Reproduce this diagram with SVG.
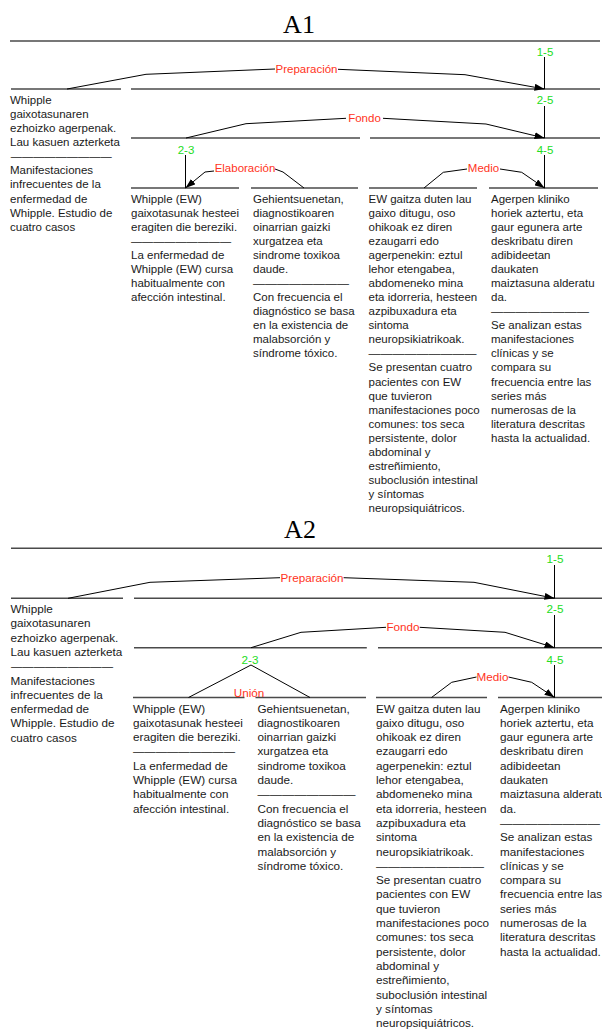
<svg xmlns="http://www.w3.org/2000/svg" width="602" height="1030" viewBox="0 0 602 1030">
<style>
.t{font-family:"Liberation Sans",Arial,sans-serif;font-size:11.5px;fill:#1a1a1a}
.t2{font-family:"Liberation Sans",Arial,sans-serif;font-size:11.7px;fill:#1a1a1a}
.gr{font-family:"Liberation Sans",Arial,sans-serif;font-size:11.5px;fill:#22dd22;text-anchor:middle}
.rd{font-family:"Liberation Sans",Arial,sans-serif;font-size:11.5px;fill:#ff3322;text-anchor:middle}
.ttl{font-family:"Liberation Serif","Times New Roman",serif;font-size:26px;fill:#000;text-anchor:middle}
.sp{stroke:#4a4a4a;stroke-width:1.4;fill:none}
.rel{stroke:#000;stroke-width:1;fill:none}
.ar{marker-end:url(#arr)}
</style>
<defs>
<marker id="arr" viewBox="0 0 10 7" refX="10" refY="3.5" markerWidth="10" markerHeight="7" markerUnits="userSpaceOnUse" orient="auto">
<path d="M0,0 L10,3.5 L0,7 z" fill="#000"/>
</marker>
</defs>
<rect width="602" height="1030" fill="#fff"/>

<!-- ================= A1 ================= -->
<g id="A1-title"><text class="ttl" x="299" y="33">A1</text></g>
<g id="A1-lines">
<line class="sp" x1="10" y1="41" x2="600" y2="41"/>
<line class="sp" x1="11" y1="89" x2="121" y2="89"/>
<line class="sp" x1="131" y1="89" x2="600" y2="89"/>
<line class="sp" x1="131" y1="138" x2="360" y2="138"/>
<line class="sp" x1="370" y1="138" x2="600" y2="138"/>
<line class="sp" x1="131" y1="188" x2="239" y2="188"/>
<line class="sp" x1="251" y1="188" x2="358" y2="188"/>
<line class="sp" x1="369" y1="188" x2="477" y2="188"/>
<line class="sp" x1="489" y1="188" x2="598" y2="188"/>
</g>
<g id="A1-connectors">
<line class="rel" x1="544.5" y1="57" x2="544.5" y2="89"/>
<line class="rel" x1="544.5" y1="106" x2="544.5" y2="138"/>
<line class="rel" x1="185.5" y1="155" x2="185.5" y2="188"/>
<line class="rel" x1="544.5" y1="155" x2="544.5" y2="188"/>
<polyline class="rel" points="67,89 146,74.3 275,69"/>
<polyline class="rel ar" points="338,69.3 465,74.7 544.5,89"/>
<polyline class="rel" points="186,138 246,123.7 346,118.3"/>
<polyline class="rel ar" points="383,118.3 486,124 544.5,138"/>
<polyline class="rel ar" points="214,171 205,172 185.5,188"/>
<polyline class="rel" points="275,169 283,172 304,188"/>
<polyline class="rel" points="467,169 443.3,172.3 424,188"/>
<polyline class="rel ar" points="500,169 521.7,172.3 544.5,188"/>
</g>
<g id="A1-labels">
<text class="gr" x="545" y="56">1-5</text>
<text class="gr" x="545" y="104">2-5</text>
<text class="gr" x="186" y="153.5">2-3</text>
<text class="gr" x="545" y="153.5">4-5</text>
<text class="rd" x="306.5" y="73">Preparación</text>
<text class="rd" x="364.5" y="122.3">Fondo</text>
<text class="rd" x="245" y="172.3">Elaboración</text>
<text class="rd" x="483.5" y="172.3">Medio</text>
</g>
<g id="A1-seg1">
<text class="t" x="10" y="104">Whipple</text>
<text class="t" x="10" y="118.08">gaixotasunaren</text>
<text class="t" x="10" y="132.16">ezhoizko agerpenak.</text>
<text class="t" x="10" y="146.24">Lau kasuen azterketa</text>
<text class="t" x="10.7" y="160.32" textLength="101" lengthAdjust="spacingAndGlyphs">—————————</text>
<text class="t" x="10" y="174.4">Manifestaciones</text>
<text class="t" x="10" y="188.48">infrecuentes de la</text>
<text class="t" x="10" y="202.56">enfermedad de</text>
<text class="t" x="10" y="216.64">Whipple. Estudio de</text>
<text class="t" x="10" y="230.72">cuatro casos</text>
</g>
<g id="A1-seg2">
<text class="t" x="131" y="202.5">Whipple (EW)</text>
<text class="t" x="131" y="216.58">gaixotasunak hesteei</text>
<text class="t" x="131" y="230.66">eragiten die bereziki.</text>
<text class="t" x="131" y="244.74" textLength="100" lengthAdjust="spacingAndGlyphs">—————————</text>
<text class="t" x="131" y="258.82">La enfermedad de</text>
<text class="t" x="131" y="272.9">Whipple (EW) cursa</text>
<text class="t" x="131" y="286.98">habitualmente con</text>
<text class="t" x="131" y="301.06">afección intestinal.</text>
</g>
<g id="A1-seg3">
<text class="t" x="253" y="202.5">Gehientsuenetan,</text>
<text class="t" x="253" y="216.58">diagnostikoaren</text>
<text class="t" x="253" y="230.66">oinarrian gaizki</text>
<text class="t" x="253" y="244.74">xurgatzea eta</text>
<text class="t" x="253" y="258.82">sindrome toxikoa</text>
<text class="t" x="253" y="272.9">daude.</text>
<text class="t" x="253" y="286.98" textLength="96" lengthAdjust="spacingAndGlyphs">————————</text>
<text class="t" x="253" y="301.06">Con frecuencia el</text>
<text class="t" x="253" y="315.14">diagnóstico se basa</text>
<text class="t" x="253" y="329.22">en la existencia de</text>
<text class="t" x="253" y="343.3">malabsorción y</text>
<text class="t" x="253" y="357.38">síndrome tóxico.</text>
</g>
<g id="A1-seg4">
<text class="t" x="368.5" y="202.5">EW gaitza duten lau</text>
<text class="t" x="368.5" y="216.58">gaixo ditugu, oso</text>
<text class="t" x="368.5" y="230.66">ohikoak ez diren</text>
<text class="t" x="368.5" y="244.74">ezaugarri edo</text>
<text class="t" x="368.5" y="258.82">agerpenekin: eztul</text>
<text class="t" x="368.5" y="272.9">lehor etengabea,</text>
<text class="t" x="368.5" y="286.98">abdomeneko mina</text>
<text class="t" x="368.5" y="301.06">eta idorreria, hesteen</text>
<text class="t" x="368.5" y="315.14">azpibuxadura eta</text>
<text class="t" x="368.5" y="329.22">sintoma</text>
<text class="t" x="368.5" y="343.3">neuropsikiatrikoak.</text>
<text class="t" x="368.5" y="357.38" textLength="108" lengthAdjust="spacingAndGlyphs">—————————</text>
<text class="t" x="368.5" y="371.46">Se presentan cuatro</text>
<text class="t" x="368.5" y="385.54">pacientes con EW</text>
<text class="t" x="368.5" y="399.62">que tuvieron</text>
<text class="t" x="368.5" y="413.7">manifestaciones poco</text>
<text class="t" x="368.5" y="427.78">comunes: tos seca</text>
<text class="t" x="368.5" y="441.86">persistente, dolor</text>
<text class="t" x="368.5" y="455.94">abdominal y</text>
<text class="t" x="368.5" y="470.02">estreñimiento,</text>
<text class="t" x="368.5" y="484.1">suboclusión intestinal</text>
<text class="t" x="368.5" y="498.18">y síntomas</text>
<text class="t" x="368.5" y="512.26">neuropsiquiátricos.</text>
</g>
<g id="A1-seg5">
<text class="t" x="491" y="202.5">Agerpen kliniko</text>
<text class="t" x="491" y="216.58">horiek aztertu, eta</text>
<text class="t" x="491" y="230.66">gaur egunera arte</text>
<text class="t" x="491" y="244.74">deskribatu diren</text>
<text class="t" x="491" y="258.82">adibideetan</text>
<text class="t" x="491" y="272.9">daukaten</text>
<text class="t" x="491" y="286.98">maiztasuna alderatu</text>
<text class="t" x="491" y="301.06">da.</text>
<text class="t" x="491" y="315.14" textLength="98" lengthAdjust="spacingAndGlyphs">————————</text>
<text class="t" x="491" y="329.22">Se analizan estas</text>
<text class="t" x="491" y="343.3">manifestaciones</text>
<text class="t" x="491" y="357.38">clínicas y se</text>
<text class="t" x="491" y="371.46">compara su</text>
<text class="t" x="491" y="385.54">frecuencia entre las</text>
<text class="t" x="491" y="399.62">series más</text>
<text class="t" x="491" y="413.7">numerosas de la</text>
<text class="t" x="491" y="427.78">literatura descritas</text>
<text class="t" x="491" y="441.86">hasta la actualidad.</text>
</g>

<!-- ================= A2 ================= -->
<g id="A2-title"><text class="ttl" x="300" y="538">A2</text></g>
<g id="A2-lines">
<line class="sp" x1="11" y1="548.3" x2="610" y2="548.3"/>
<line class="sp" x1="11" y1="598.3" x2="123" y2="598.3"/>
<line class="sp" x1="134" y1="598.3" x2="610" y2="598.3"/>
<line class="sp" x1="134" y1="647.7" x2="366.8" y2="647.7"/>
<line class="sp" x1="378" y1="647.7" x2="610" y2="647.7"/>
<line class="sp" x1="133" y1="697.5" x2="244.5" y2="697.5"/>
<line class="sp" x1="255.5" y1="697.5" x2="366" y2="697.5"/>
<line class="sp" x1="376" y1="697.5" x2="487" y2="697.5"/>
<line class="sp" x1="498" y1="697.5" x2="610" y2="697.5"/>
</g>
<g id="A2-connectors">
<line class="rel" x1="554.5" y1="565" x2="554.5" y2="598.3"/>
<line class="rel" x1="554.5" y1="615" x2="554.5" y2="647.7"/>
<line class="rel" x1="554.5" y1="665" x2="554.5" y2="697.5"/>
<polyline class="rel" points="68,598.3 150,582.3 280,577.7"/>
<polyline class="rel ar" points="343.6,577.7 474,582.3 554.5,598.3"/>
<polyline class="rel" points="251,647.7 301,632.3 386,627.3"/>
<polyline class="rel ar" points="419.7,627.3 505,632.3 554.5,647.7"/>
<polyline class="rel" points="188.5,697.5 251,665 310,697.5"/>
<polyline class="rel" points="476.5,677 451.7,682.3 431.5,697.5"/>
<polyline class="rel ar" points="508.5,677 531.7,682.3 554.5,697.5"/>
</g>
<g id="A2-labels">
<text class="gr" x="555" y="563" style="font-size:11.7px">1-5</text>
<text class="gr" x="555" y="613" style="font-size:11.7px">2-5</text>
<text class="gr" x="250" y="663.5" style="font-size:11.7px">2-3</text>
<text class="gr" x="555" y="663.5" style="font-size:11.7px">4-5</text>
<text class="rd" x="312" y="581.7" style="font-size:11.7px">Preparación</text>
<text class="rd" x="403" y="631.3" style="font-size:11.7px">Fondo</text>
<text class="rd" x="249" y="697.3" style="font-size:11.7px">Unión</text>
<text class="rd" x="492.5" y="681" style="font-size:11.7px">Medio</text>
</g>
<g id="A2-seg1">
<text class="t2" x="10.5" y="613">Whipple</text>
<text class="t2" x="10.5" y="627.3">gaixotasunaren</text>
<text class="t2" x="10.5" y="641.6">ezhoizko agerpenak.</text>
<text class="t2" x="10.5" y="655.9">Lau kasuen azterketa</text>
<text class="t2" x="11" y="670.2" textLength="102" lengthAdjust="spacingAndGlyphs">—————————</text>
<text class="t2" x="10.5" y="684.5">Manifestaciones</text>
<text class="t2" x="10.5" y="698.8">infrecuentes de la</text>
<text class="t2" x="10.5" y="713.1">enfermedad de</text>
<text class="t2" x="10.5" y="727.4">Whipple. Estudio de</text>
<text class="t2" x="10.5" y="741.7">cuatro casos</text>
</g>
<g id="A2-seg2">
<text class="t2" x="133" y="712.5">Whipple (EW)</text>
<text class="t2" x="133" y="726.8">gaixotasunak hesteei</text>
<text class="t2" x="133" y="741.1">eragiten die bereziki.</text>
<text class="t2" x="133" y="755.4" textLength="102" lengthAdjust="spacingAndGlyphs">—————————</text>
<text class="t2" x="133" y="769.7">La enfermedad de</text>
<text class="t2" x="133" y="784">Whipple (EW) cursa</text>
<text class="t2" x="133" y="798.3">habitualmente con</text>
<text class="t2" x="133" y="812.6">afección intestinal.</text>
</g>
<g id="A2-seg3">
<text class="t2" x="257.5" y="712.5">Gehientsuenetan,</text>
<text class="t2" x="257.5" y="726.8">diagnostikoaren</text>
<text class="t2" x="257.5" y="741.1">oinarrian gaizki</text>
<text class="t2" x="257.5" y="755.4">xurgatzea eta</text>
<text class="t2" x="257.5" y="769.7">sindrome toxikoa</text>
<text class="t2" x="257.5" y="784">daude.</text>
<text class="t2" x="257.5" y="798.3" textLength="98" lengthAdjust="spacingAndGlyphs">————————</text>
<text class="t2" x="257.5" y="812.6">Con frecuencia el</text>
<text class="t2" x="257.5" y="826.9">diagnóstico se basa</text>
<text class="t2" x="257.5" y="841.2">en la existencia de</text>
<text class="t2" x="257.5" y="855.5">malabsorción y</text>
<text class="t2" x="257.5" y="869.8">síndrome tóxico.</text>
</g>
<g id="A2-seg4">
<text class="t2" x="376" y="712.5">EW gaitza duten lau</text>
<text class="t2" x="376" y="726.8">gaixo ditugu, oso</text>
<text class="t2" x="376" y="741.1">ohikoak ez diren</text>
<text class="t2" x="376" y="755.4">ezaugarri edo</text>
<text class="t2" x="376" y="769.7">agerpenekin: eztul</text>
<text class="t2" x="376" y="784">lehor etengabea,</text>
<text class="t2" x="376" y="798.3">abdomeneko mina</text>
<text class="t2" x="376" y="812.6">eta idorreria, hesteen</text>
<text class="t2" x="376" y="826.9">azpibuxadura eta</text>
<text class="t2" x="376" y="841.2">sintoma</text>
<text class="t2" x="376" y="855.5">neuropsikiatrikoak.</text>
<text class="t2" x="376" y="869.8" textLength="108" lengthAdjust="spacingAndGlyphs">—————————</text>
<text class="t2" x="376" y="884.1">Se presentan cuatro</text>
<text class="t2" x="376" y="898.4">pacientes con EW</text>
<text class="t2" x="376" y="912.7">que tuvieron</text>
<text class="t2" x="376" y="927">manifestaciones poco</text>
<text class="t2" x="376" y="941.3">comunes: tos seca</text>
<text class="t2" x="376" y="955.6">persistente, dolor</text>
<text class="t2" x="376" y="969.9">abdominal y</text>
<text class="t2" x="376" y="984.2">estreñimiento,</text>
<text class="t2" x="376" y="998.5">suboclusión intestinal</text>
<text class="t2" x="376" y="1012.8">y síntomas</text>
<text class="t2" x="376" y="1027.1">neuropsiquiátricos.</text>
</g>
<g id="A2-seg5">
<text class="t2" x="500" y="712.5">Agerpen kliniko</text>
<text class="t2" x="500" y="726.8">horiek aztertu, eta</text>
<text class="t2" x="500" y="741.1">gaur egunera arte</text>
<text class="t2" x="500" y="755.4">deskribatu diren</text>
<text class="t2" x="500" y="769.7">adibideetan</text>
<text class="t2" x="500" y="784">daukaten</text>
<text class="t2" x="500" y="798.3">maiztasuna alderatu</text>
<text class="t2" x="500" y="812.6">da.</text>
<text class="t2" x="500" y="826.9" textLength="100" lengthAdjust="spacingAndGlyphs">————————</text>
<text class="t2" x="500" y="841.2">Se analizan estas</text>
<text class="t2" x="500" y="855.5">manifestaciones</text>
<text class="t2" x="500" y="869.8">clínicas y se</text>
<text class="t2" x="500" y="884.1">compara su</text>
<text class="t2" x="500" y="898.4">frecuencia entre las</text>
<text class="t2" x="500" y="912.7">series más</text>
<text class="t2" x="500" y="927">numerosas de la</text>
<text class="t2" x="500" y="941.3">literatura descritas</text>
<text class="t2" x="500" y="955.6">hasta la actualidad.</text>
</g>
</svg>
